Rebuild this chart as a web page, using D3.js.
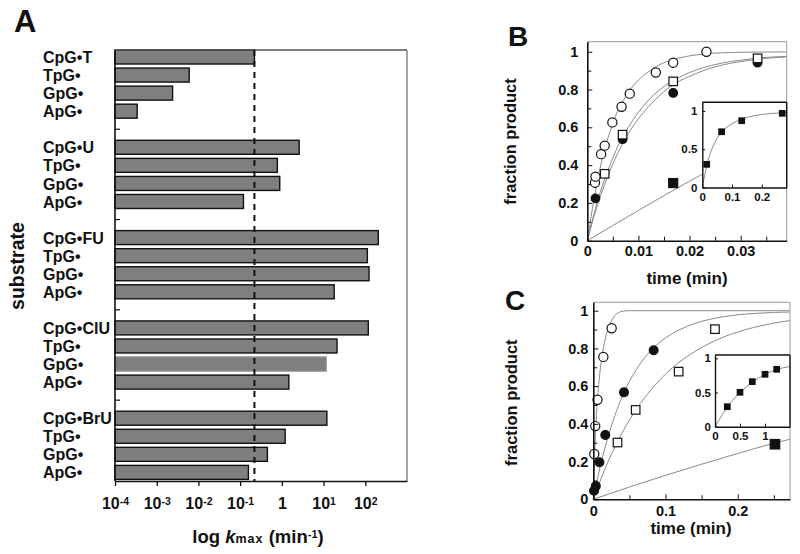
<!doctype html>
<html>
<head>
<meta charset="utf-8">
<title>kmax and product formation</title>
<script src="https://d3js.org/d3.v7.min.js"></script>
<style>
 body { margin: 0; background: #fff; }
 text { font-family: "Liberation Sans", Arial, sans-serif; font-weight: bold; fill: #111; }
</style>
</head>
<body>
<script>
// ---- panel A : kmax per substrate (min^-1)
var groups = ["T", "U", "FU", "ClU", "BrU"];
var substrates = [
  "CpG\u2022T", "TpG\u2022", "GpG\u2022", "ApG\u2022",
  "CpG\u2022U", "TpG\u2022", "GpG\u2022", "ApG\u2022",
  "CpG\u2022FU", "TpG\u2022", "GpG\u2022", "ApG\u2022",
  "CpG\u2022ClU", "TpG\u2022", "GpG\u2022", "ApG\u2022",
  "CpG\u2022BrU", "TpG\u2022", "GpG\u2022", "ApG\u2022"
];
var kmax = [
  0.22, 0.006, 0.0024, 0.00034,
  2.6, 0.78, 0.89, 0.12,
  205, 112, 123, 18,
  118, 21, 11.5, 1.47,
  12, 1.2, 0.45, 0.158
];
var refK = 0.22;
var decades = [1e-4, 1e-3, 1e-2, 1e-1, 1, 10, 100];

// ---- panel B : time (min), fraction product
var bOpenCirc = [[0.0015,0.307],[0.0016,0.339],[0.0027,0.458],[0.0034,0.503],[0.0049,0.626],[0.0067,0.709],[0.0083,0.778],[0.0134,0.89],[0.0168,0.942],[0.0233,1.0]];
var bFilledCirc = [[0.0016,0.224],[0.0069,0.537],[0.0168,0.782],[0.0333,0.942]];
var bOpenSq = [[0.0034,0.354],[0.0069,0.561],[0.0168,0.843],[0.0333,0.965]];
var bFilledSq = [[0.0168,0.305]];
var bFitOpenCirc = [[0,0],[0.001,0.17],[0.002,0.32],[0.003,0.44],[0.004,0.54],[0.005,0.62],[0.006,0.69],[0.007,0.74],[0.008,0.785],[0.009,0.82],[0.010,0.85],[0.012,0.895],[0.014,0.93],[0.016,0.952],[0.018,0.967],[0.020,0.978],[0.023,0.988],[0.026,0.994],[0.030,0.997],[0.039,0.999]];
var bFitOpenSq = [[0,0],[0.002,0.21],[0.004,0.37],[0.006,0.5],[0.008,0.6],[0.010,0.68],[0.012,0.745],[0.014,0.795],[0.016,0.835],[0.018,0.865],[0.020,0.89],[0.023,0.918],[0.026,0.938],[0.030,0.955],[0.034,0.968],[0.039,0.975]];
var bFitFilledCirc = [[0,0],[0.002,0.19],[0.004,0.34],[0.006,0.465],[0.008,0.565],[0.010,0.645],[0.012,0.71],[0.014,0.765],[0.016,0.81],[0.018,0.845],[0.020,0.87],[0.023,0.903],[0.026,0.927],[0.030,0.948],[0.034,0.962],[0.039,0.973]];
var bFitFilledSq = [[0,0],[0.01,0.16],[0.02,0.315],[0.03,0.46],[0.039,0.58]];
var bInsetSq = [[0.0148,0.303],[0.065,0.729],[0.1327,0.873],[0.269,0.97]];
var bInsetFit = [[0,0],[0.01,0.2],[0.02,0.36],[0.03,0.48],[0.04,0.57],[0.05,0.645],[0.06,0.7],[0.07,0.745],[0.08,0.78],[0.10,0.835],[0.12,0.875],[0.14,0.905],[0.17,0.935],[0.20,0.955],[0.24,0.97],[0.284,0.98]];

// ---- panel C
var cOpenCirc = [[0.0014,0.24],[0.0027,0.388],[0.0058,0.528],[0.0139,0.755],[0.0254,0.907]];
var cFilledCirc = [[0.001,0.045],[0.0035,0.07],[0.0085,0.196],[0.0166,0.341],[0.0425,0.567],[0.0836,0.79]];
var cOpenSq = [[0.0335,0.301],[0.0587,0.474],[0.1182,0.677],[0.1685,0.902]];
var cFilledSq = [[0.2516,0.292]];
var cFitOpenCirc = [[0,0],[0.002,0.25],[0.004,0.42],[0.006,0.54],[0.008,0.63],[0.010,0.70],[0.013,0.78],[0.016,0.84],[0.020,0.90],[0.025,0.945],[0.030,0.975],[0.035,0.99],[0.040,0.997],[0.050,1.0],[0.272,1.0]];
var cFitFilledCirc = [[0,0],[0.01,0.18],[0.02,0.325],[0.03,0.445],[0.04,0.545],[0.05,0.625],[0.06,0.69],[0.07,0.745],[0.08,0.79],[0.10,0.855],[0.12,0.9],[0.14,0.932],[0.16,0.953],[0.18,0.968],[0.20,0.978],[0.23,0.987],[0.272,0.993]];
var cFitOpenSq = [[0,0],[0.02,0.196],[0.04,0.353],[0.06,0.48],[0.08,0.58],[0.10,0.664],[0.12,0.73],[0.14,0.782],[0.16,0.825],[0.18,0.86],[0.20,0.887],[0.22,0.909],[0.25,0.934],[0.272,0.948]];
var cFitFilledSq = [[0,0],[0.05,0.065],[0.10,0.127],[0.15,0.186],[0.20,0.243],[0.25,0.297],[0.272,0.318]];
var cInsetSq = [[0.246,0.292],[0.5,0.503],[0.746,0.658],[1.0,0.766],[1.234,0.839]];
var cInsetFit = [[0,0],[0.1,0.12],[0.25,0.29],[0.5,0.5],[0.75,0.65],[1.0,0.765],[1.25,0.84],[1.5,0.88]];

var fractionTicks = [0, 0.2, 0.4, 0.6, 0.8, 1];
var fractionMinor = [0.1, 0.3, 0.5, 0.7, 0.9];
var insetFractionTicks = [0, 0.5, 1];

var svg = d3.select("body").append("svg")
  .attr("width", 800)
  .attr("height", 554);

var fmt = d3.format("~g");

// ================= A =================
var xA = d3.scaleLog().domain([1e-4, 1e3]).range([115, 407]);
var slots = [];
groups.forEach(function(g, gi) {
  for (var i = 0; i < 4; i++) slots.push(g + i);
  if (gi < groups.length - 1) slots.push(g + "gap");
});
var yA = d3.scaleBand().domain(slots).range([50, 479.4]).paddingInner(0.225).paddingOuter(0);
var bars = substrates.map(function(s, i) {
  return { key: groups[Math.floor(i / 4)] + (i % 4), label: s, k: kmax[i] };
});

var gA = svg.append("g");

gA.selectAll("rect.bar").data(bars).join("rect")
  .attr("class", "bar")
  .attr("x", xA(1e-4))
  .attr("y", function(d) { return yA(d.key); })
  .attr("width", function(d) { return xA(d.k) - xA(1e-4); })
  .attr("height", yA.bandwidth())
  .attr("fill", "#7f7f7f")
  .attr("stroke", function(d) { return d.key === "ClU2" ? "#8c8c8c" : "#111"; })
  .attr("stroke-width", 1.4);

gA.selectAll("text.cat").data(bars).join("text")
  .attr("class", "cat")
  .attr("x", 43)
  .attr("y", function(d) { return yA(d.key) + yA.bandwidth() / 2; })
  .attr("dy", "0.38em")
  .attr("font-size", "16px")
  .text(function(d) { return d.label; });

// little ticks at the gaps between groups
gA.selectAll("line.gap").data(slots.filter(function(s) { return s.indexOf("gap") > 0; })).join("line")
  .attr("x1", 115).attr("x2", 120)
  .attr("y1", function(d) { return yA(d) + yA.bandwidth() / 2; })
  .attr("y2", function(d) { return yA(d) + yA.bandwidth() / 2; })
  .attr("stroke", "#111").attr("stroke-width", 1.2);

// frame
gA.append("line").attr("x1", 115).attr("x2", 407).attr("y1", 50).attr("y2", 50).attr("stroke", "#555").attr("stroke-width", 1.5);
gA.append("line").attr("x1", 407).attr("x2", 407).attr("y1", 50).attr("y2", 481).attr("stroke", "#888").attr("stroke-width", 1.5);
gA.append("line").attr("x1", 115).attr("x2", 115).attr("y1", 50).attr("y2", 481).attr("stroke", "#111").attr("stroke-width", 1.6);

// reference dashed line
gA.append("line")
  .attr("x1", xA(refK)).attr("x2", xA(refK))
  .attr("y1", 50).attr("y2", 481)
  .attr("stroke", "#111").attr("stroke-width", 2)
  .attr("stroke-dasharray", "6,5");

var axA = gA.append("g")
  .attr("transform", "translate(0,481)")
  .call(d3.axisBottom(xA).tickValues(decades).tickSize(5).tickSizeOuter(0).tickPadding(12));
axA.select(".domain").attr("stroke", "#111").attr("stroke-width", 1.6);
axA.selectAll(".tick line").attr("stroke", "#111").attr("stroke-width", 1.3);
axA.selectAll(".tick text").attr("font-size", "16px").attr("font-family", null).each(function(d) {
  var t = d3.select(this).text("");
  var e = Math.round(Math.log10(d));
  if (e === 0) {
    t.append("tspan").text("1");
  } else {
    t.append("tspan").text("10");
    t.append("tspan").attr("dy", "-0.45em").attr("font-size", "10.5px").text(e);
  }
});

var tA = svg.append("text").attr("x", 258).attr("y", 543).attr("text-anchor", "middle").attr("font-size", "18.5px");
tA.append("tspan").text("log ");
tA.append("tspan").attr("font-style", "italic").text("k");
tA.append("tspan").attr("font-size", "12.5px").attr("letter-spacing", "1px").text("max");
tA.append("tspan").text(" (min");
tA.append("tspan").attr("dy", "-0.5em").attr("font-size", "11px").text("-1");
tA.append("tspan").attr("dy", "0.3em").text(")");

svg.append("text")
  .attr("transform", "translate(24,266) rotate(-90)")
  .attr("text-anchor", "middle")
  .attr("font-size", "19.5px")
  .text("substrate");

svg.append("text").attr("x", 14).attr("y", 32).attr("font-size", "31px").text("A");

// ================= B / C =================
function panel(o) {
  var g = svg.append("g");
  var x = o.x, y = o.y;
  var x0 = x.range()[0], x1 = x.range()[1], y0 = y.range()[0], y1 = y.range()[1];

  if (o.inset) {
    g.append("rect").attr("x", x0).attr("y", y1).attr("width", x1 - x0).attr("height", y0 - y1)
      .attr("fill", "#fff");
  }

  var line = d3.line()
    .x(function(d) { return x(d[0]); })
    .y(function(d) { return y(d[1]); })
    .curve(d3.curveMonotoneX);

  o.curves.forEach(function(c) {
    g.append("path").attr("d", line(c))
      .attr("fill", "none").attr("stroke", "#8a8a8a").attr("stroke-width", 1);
  });

  o.series.forEach(function(s) {
    var sel = g.append("g").selectAll(null).data(s.pts);
    if (s.shape === "circle") {
      sel.join("circle")
        .attr("cx", function(d) { return x(d[0]); })
        .attr("cy", function(d) { return y(d[1]); })
        .attr("r", s.size)
        .attr("fill", s.filled ? "#111" : "#fff")
        .attr("stroke", "#111").attr("stroke-width", 1.2);
    } else {
      sel.join("rect")
        .attr("x", function(d) { return x(d[0]) - s.size / 2; })
        .attr("y", function(d) { return y(d[1]) - s.size / 2; })
        .attr("width", s.size).attr("height", s.size)
        .attr("fill", s.filled ? "#111" : "#fff")
        .attr("stroke", "#111").attr("stroke-width", 1.2);
    }
  });

  // frame
  var edge = o.inset ? "#111" : "#999";
  var ew = o.inset ? 1.4 : 1;
  g.append("line").attr("x1", x0).attr("x2", x1).attr("y1", y1).attr("y2", y1).attr("stroke", edge).attr("stroke-width", ew);
  g.append("line").attr("x1", x1).attr("x2", x1).attr("y1", y1).attr("y2", y0).attr("stroke", edge).attr("stroke-width", ew);

  var fs = o.inset ? "11.5px" : "14.5px";
  var tk = o.inset ? 3 : 5;

  if (o.xMinor) {
    g.append("g").attr("transform", "translate(0," + y0 + ")")
      .call(d3.axisBottom(x).tickValues(o.xMinor).tickSize(-tk + 1).tickSizeOuter(0).tickFormat(""))
      .call(function(a) { a.select(".domain").remove(); a.selectAll("line").attr("stroke", "#111"); });
  }
  if (o.yMinor) {
    g.append("g").attr("transform", "translate(" + x0 + ",0)")
      .call(d3.axisLeft(y).tickValues(o.yMinor).tickSize(-tk + 1).tickSizeOuter(0).tickFormat(""))
      .call(function(a) { a.select(".domain").remove(); a.selectAll("line").attr("stroke", "#111"); });
  }

  var ax = g.append("g").attr("transform", "translate(0," + y0 + ")")
    .call(d3.axisBottom(x).tickValues(o.xTicks).tickSize(-tk).tickSizeOuter(0).tickPadding(o.xPad).tickFormat(fmt));
  var ay = g.append("g").attr("transform", "translate(" + x0 + ",0)")
    .call(d3.axisLeft(y).tickValues(o.yTicks).tickSize(-tk).tickSizeOuter(0).tickPadding(o.yPad).tickFormat(fmt));
  [ax, ay].forEach(function(a) {
    a.select(".domain").attr("stroke", "#111").attr("stroke-width", o.inset ? 1.4 : 1.6);
    a.selectAll(".tick line").attr("stroke", "#111");
    a.selectAll(".tick text").attr("font-size", fs).attr("font-family", null).attr("fill", "#111");
  });
}

// B main
var xB = d3.scaleLinear().domain([0, 0.039]).range([587.3, 786.7]);
var yB = d3.scaleLinear().domain([0, 1.053]).range([240.7, 41.7]);
panel({
  x: xB, y: yB,
  xTicks: [0, 0.01, 0.02, 0.03], xMinor: [0.005, 0.015, 0.025, 0.035],
  yTicks: fractionTicks, yMinor: fractionMinor,
  xPad: 5, yPad: 9,
  curves: [bFitFilledSq, bFitFilledCirc, bFitOpenSq, bFitOpenCirc],
  series: [
    { pts: bFilledSq, shape: "square", size: 9, filled: true },
    { pts: bFilledCirc, shape: "circle", size: 4.3, filled: true },
    { pts: bOpenSq, shape: "square", size: 8.5, filled: false },
    { pts: bOpenCirc, shape: "circle", size: 4.6, filled: false }
  ]
});
// B inset
panel({
  inset: true,
  x: d3.scaleLinear().domain([0, 0.284]).range([702.3, 786.7]),
  y: d3.scaleLinear().domain([0, 1.114]).range([187.5, 102.3]),
  xTicks: [0, 0.1, 0.2], yTicks: insetFractionTicks,
  xPad: 5, yPad: 5,
  curves: [bInsetFit],
  series: [{ pts: bInsetSq, shape: "square", size: 5.5, filled: true }]
});

// C main
var xC = d3.scaleLinear().domain([0, 0.2724]).range([593.3, 790]);
var yC = d3.scaleLinear().domain([0, 1.0445]).range([499.3, 302.3]);
panel({
  x: xC, y: yC,
  xTicks: [0, 0.1, 0.2], xMinor: [0.05, 0.15, 0.25],
  yTicks: fractionTicks, yMinor: fractionMinor,
  xPad: 6, yPad: 5,
  curves: [cFitFilledSq, cFitOpenSq, cFitFilledCirc, cFitOpenCirc],
  series: [
    { pts: cFilledSq, shape: "square", size: 9.5, filled: true },
    { pts: cFilledCirc, shape: "circle", size: 4.4, filled: true },
    { pts: cOpenSq, shape: "square", size: 8.5, filled: false },
    { pts: cOpenCirc, shape: "circle", size: 4.6, filled: false }
  ]
});
// C inset
panel({
  inset: true,
  x: d3.scaleLinear().domain([0, 1.5]).range([715, 790]),
  y: d3.scaleLinear().domain([0, 1.048]).range([426.7, 355]),
  xTicks: [0, 0.5, 1], yTicks: insetFractionTicks,
  xPad: 5, yPad: 4,
  curves: [cInsetFit],
  series: [{ pts: cInsetSq, shape: "square", size: 5.5, filled: true }]
});

// titles for B and C
svg.append("text").attr("x", 508).attr("y", 46).attr("font-size", "28px").text("B");
svg.append("text").attr("x", 505).attr("y", 310).attr("font-size", "28px").text("C");

svg.append("text").attr("transform", "translate(516,141.5) rotate(-90)")
  .attr("text-anchor", "middle").attr("font-size", "16.5px").text("fraction product");
svg.append("text").attr("transform", "translate(517,402.7) rotate(-90)")
  .attr("text-anchor", "middle").attr("font-size", "16.5px").text("fraction product");

svg.append("text").attr("x", 687).attr("y", 284).attr("text-anchor", "middle").attr("font-size", "17px").text("time (min)");
svg.append("text").attr("x", 691).attr("y", 534).attr("text-anchor", "middle").attr("font-size", "17px").text("time (min)");
</script>
</body>
</html>
